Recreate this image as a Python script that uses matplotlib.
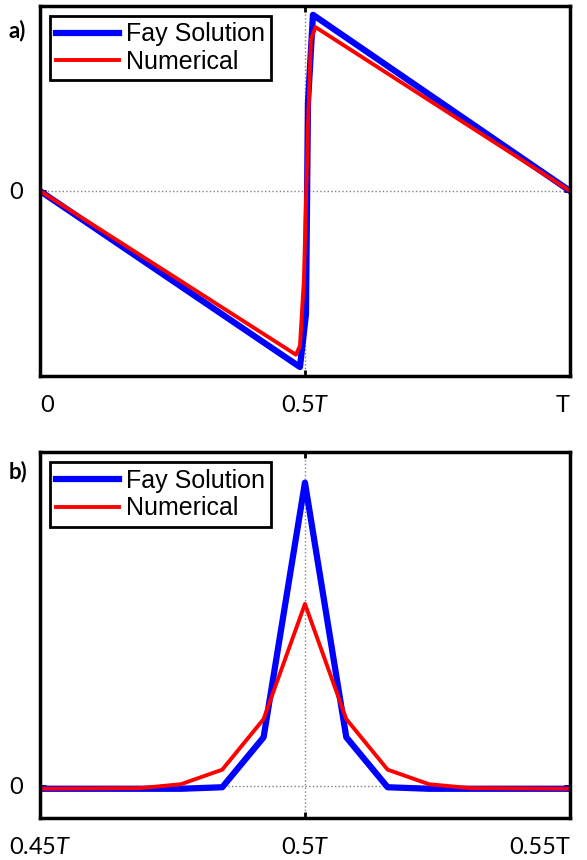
# Fay solution vs numerical: sawtooth over one period (a) and shock region (b)

import matplotlib.pyplot as plt

plt.rcParams['font.family'] = ['Lato', 'DejaVu Sans']
plt.rcParams['mathtext.fontset'] = 'custom'
plt.rcParams['mathtext.rm'] = 'Lato'
plt.rcParams['mathtext.it'] = 'Lato:italic'

# panel a data (time in units of T)
fay_a_t = [0, 0.4906, 0.5019, 0.5057, 0.5151, 1.0]
fay_a_v = [0, -1.0, -0.70, 0.50, 1.0, 0]
num_a_t = [0, 0.483, 0.4906, 0.4981, 0.506, 0.5113, 0.52, 1.0]
num_a_v = [0, -0.93, -0.88, -0.50, 0.40, 0.86, 0.93, 0]

# panel b data (zoom on 0.45T..0.55T)
fay_b_t = [0.45, 0.4766, 0.4844, 0.4922, 0.5, 0.5078, 0.5156, 0.5234, 0.55]
fay_b_v = [-0.01, -0.01, -0.005, 0.16, 1.0, 0.16, -0.005, -0.01, -0.01]
num_b_t = [0.45, 0.4688, 0.4766, 0.4844, 0.4922, 0.5, 0.5078, 0.5156, 0.5234, 0.5313, 0.55]
num_b_v = [-0.01, -0.008, 0.005, 0.053, 0.22, 0.60, 0.22, 0.053, 0.005, -0.008, -0.01]

fig = plt.figure(figsize=(5.87, 8.6), dpi=100)
ax1 = fig.add_axes([0.068, 0.563, 0.903, 0.430])
ax2 = fig.add_axes([0.068, 0.049, 0.903, 0.425])

legend_font = {'family': 'Liberation Sans', 'size': 18}

def style(ax, xmid):
    ax.axhline(0, color='gray', ls=':', lw=1, zorder=0)
    ax.axvline(xmid, color='gray', ls=':', lw=1, zorder=0)
    for spine in ax.spines.values():
        spine.set_linewidth(2.5)
        spine.set_edgecolor('black')
    ax.tick_params(direction='in', length=4, width=2, top=True, right=True,
                   labelsize=17, pad=14)
    ax.tick_params(axis='y', pad=12)
    ax.set_yticks([0])
    ax.set_yticklabels(['0'])

def add_legend(ax):
    leg = ax.legend(loc='upper left', prop=legend_font, frameon=True, fancybox=False,
                    edgecolor='black', framealpha=1, handlelength=2.5,
                    borderpad=0.25, labelspacing=0.15, handletextpad=0.3,
                    borderaxespad=0.4)
    leg.get_frame().set_linewidth(2)

# panel a
ax1.plot(fay_a_t, fay_a_v, color='blue', lw=4.5, label='Fay Solution')
ax1.plot(num_a_t, num_a_v, color='red', lw=2.8, label='Numerical')
ax1.set_xlim(0, 1)
ax1.set_ylim(-1.05, 1.05)
style(ax1, 0.5)
ax1.set_xticks([0, 0.5, 1])
ax1.set_xticklabels(['0', r'0.5$\mathit{T}$', 'T'])
lbls = ax1.get_xticklabels()
lbls[0].set_ha('left')
lbls[2].set_ha('right')
add_legend(ax1)

# panel b
ax2.plot(fay_b_t, fay_b_v, color='blue', lw=4.5, label='Fay Solution')
ax2.plot(num_b_t, num_b_v, color='red', lw=2.8, label='Numerical')
ax2.set_xlim(0.45, 0.55)
ax2.set_ylim(-0.106, 1.10)
style(ax2, 0.5)
ax2.set_xticks([0.45, 0.5, 0.55])
ax2.set_xticklabels([r'0.45$\mathit{T}$', r'0.5$\mathit{T}$', '0.55T'])
ax2.get_xticklabels()[2].set_ha('right')
add_legend(ax2)

fig.text(0.014, 0.965, 'a)', fontsize=16, fontweight='bold', va='center')
fig.text(0.014, 0.452, 'b)', fontsize=16, fontweight='bold', va='center')

fig.savefig('out.png', dpi=100)
